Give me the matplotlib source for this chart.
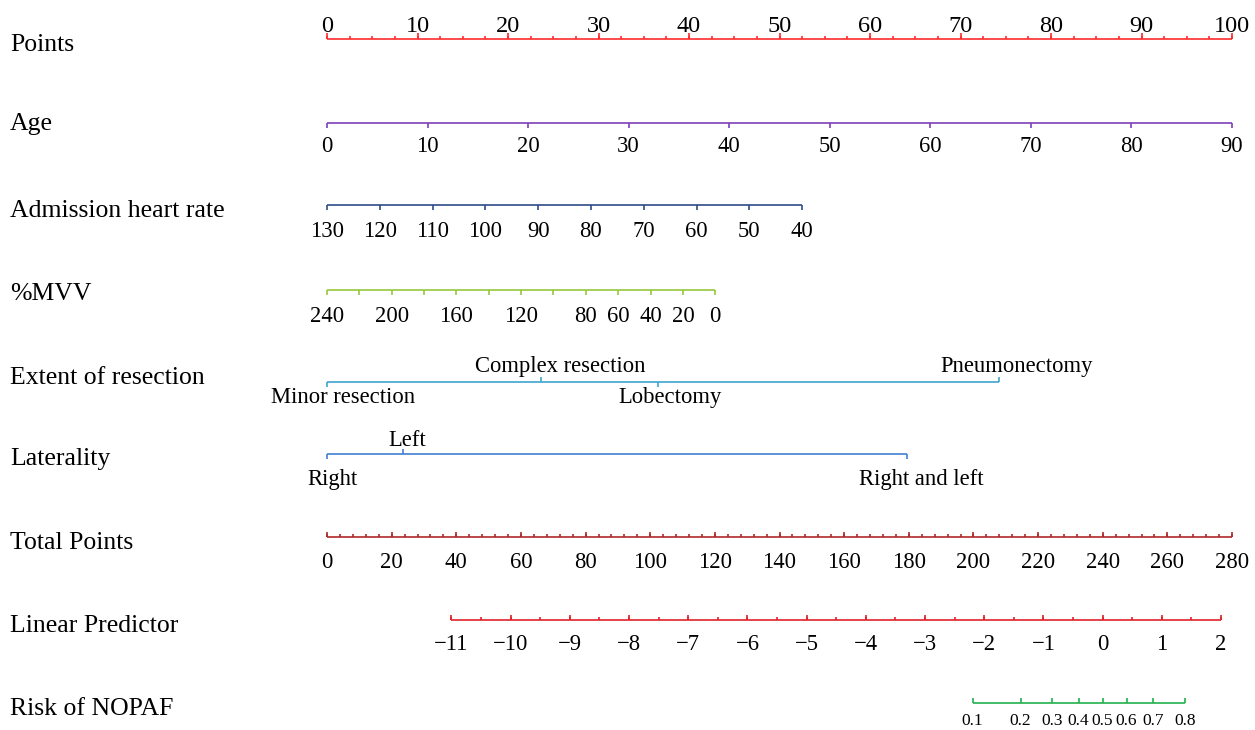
import numpy as np
import matplotlib
matplotlib.use("Agg")
import matplotlib.pyplot as plt
from matplotlib.transforms import offset_copy

plt.rcParams["font.family"] = ["Liberation Serif", "DejaVu Serif"]

# ---- nomogram data ----
points_major = np.arange(0, 101, 10)
points_minor = np.arange(0, 100.01, 2.5)

age_ticks = [0, 10, 20, 30, 40, 50, 60, 70, 80, 90]
age_pts = (0, 100)            # points at first / last tick

hr_ticks = [130, 120, 110, 100, 90, 80, 70, 60, 50, 40]
hr_pts = (0, 52.5)

mvv_ticks = list(range(240, -1, -20))
mvv_labels = [240, 200, 160, 120, 80, 60, 40, 20, 0]
mvv_pts = (0, 42.9)

extent_levels = ["Minor resection", "Complex resection", "Lobectomy", "Pneumonectomy"]
extent_pts = [0, 23.7, 36.6, 74.3]
extent_side = ["below", "above", "below", "above"]

lat_levels = ["Right", "Left", "Right and left"]
lat_pts = [0, 8.4, 64.1]
lat_side = ["below", "above", "below"]

total_major = np.arange(0, 281, 20)
total_minor = np.arange(0, 281, 4)
total_max = 280

lp_ticks = np.arange(-11, 3)
lp_minor = np.arange(-11, 2.01, 0.5)
lp_total = (38.5, 276.6)      # total points at LP = -11 and LP = 2

risk_ticks = [0.1, 0.2, 0.3, 0.4, 0.5, 0.6, 0.7, 0.8]

row_names = ["Points", "Age", "Admission heart rate", "%MVV", "Extent of resection",
             "Laterality", "Total Points", "Linear Predictor", "Risk of NOPAF"]

# ---- layout ----
W, H = 1255, 730
X0, SCALE = 327, 9.05          # pixel of 0 points, pixels per point
row_y = [39.3, 123.3, 205.2, 289.7, 381.7, 454.3, 536.7, 620, 702.7]
name_base = [51, 130, 217, 300, 384, 465, 549, 632, 715]
colors = ["#FF2B2B", "#7E3FB8", "#2E4D8A", "#96C83C", "#3DA5CF",
          "#4182D2", "#B02A2A", "#E0222A", "#21B24B"]
LW = 1.2
FS_NAME, FS_TICK = 18.5, 16.3

fig = plt.figure(figsize=(W / 100, H / 100), dpi=100)
ax = fig.add_axes([0, 0, 1, 1])
ax.set_xlim(-X0 / SCALE, (W - X0) / SCALE)
ax.set_ylim(H, 0)
ax.axis("off")


def lin(v, v0, v1, p0, p1):
    return p0 + (np.asarray(v, float) - v0) * (p1 - p0) / (v1 - v0)


def tp_to_x(tp):
    return np.asarray(tp, float) * 100 / total_max


def lp_to_x(lp):
    return tp_to_x(lin(lp, -11, 2, *lp_total))


def axis_line(xs, y, color, major, minor=None, up=False, tl=5, mtl=3):
    ax.plot([min(xs), max(xs)], [y, y], color=color, lw=LW, solid_capstyle="butt")
    s = -1 if up else 1
    ax.vlines(major, y, y + s * tl, color=color, lw=LW)
    if minor is not None:
        ax.vlines(minor, y, y + s * mtl, color=color, lw=LW)


def tick_labels(xs, labels, y, fs=FS_TICK):
    for x, lab in zip(xs, labels):
        ax.text(x, y, lab, ha="center", va="baseline", fontsize=fs)


# row names
for name, yb in zip(row_names, name_base):
    ax.text(-X0 / SCALE + 10 / SCALE, yb, name, ha="left", va="baseline", fontsize=FS_NAME)

# Points
y = row_y[0]
axis_line(points_major, y, colors[0], points_major, points_minor, up=True, tl=6, mtl=3)
tick_labels(points_major, [str(v) for v in points_major], y - 7.6, fs=17.5)

# Age
y = row_y[1]
ax_x = lin(age_ticks, age_ticks[0], age_ticks[-1], *age_pts)
axis_line(ax_x, y, colors[1], ax_x)
tick_labels(ax_x, [str(v) for v in age_ticks], y + 29)

# Heart rate
y = row_y[2]
hx = lin(hr_ticks, hr_ticks[0], hr_ticks[-1], *hr_pts)
axis_line(hx, y, colors[2], hx)
tick_labels(hx, [str(v) for v in hr_ticks], y + 31.5)

# %MVV
y = row_y[3]
mx = lin(mvv_ticks, mvv_ticks[0], mvv_ticks[-1], *mvv_pts)
axis_line(mx, y, colors[3], mx)
mlx = lin(mvv_labels, mvv_ticks[0], mvv_ticks[-1], *mvv_pts)
tick_labels(mlx, [str(v) for v in mvv_labels], y + 32)

# categorical rows
cat_texts = []


def cat_row(levels, pts, sides, y, color, above_off, below_off):
    ax.plot([min(pts), max(pts)], [y, y], color=color, lw=LW, solid_capstyle="butt")
    for lev, p, side in zip(levels, pts, sides):
        if side == "above":
            ax.vlines(p, y, y - 5, color=color, lw=LW)
            t = ax.text(p, y - above_off, lev, ha="center", va="baseline", fontsize=FS_TICK)
        else:
            ax.vlines(p, y, y + 5, color=color, lw=LW)
            t = ax.text(p, y + below_off, lev, ha="center", va="baseline", fontsize=FS_TICK)
        cat_texts.append(t)


cat_row(extent_levels, extent_pts, extent_side, row_y[4], colors[4], 10, 21)
cat_row(lat_levels, lat_pts, lat_side, row_y[5], colors[5], 8, 31)

# Total points
y = row_y[6]
axis_line(tp_to_x(total_major), y, colors[6], tp_to_x(total_major), tp_to_x(total_minor), up=True, tl=5, mtl=3)
tick_labels(tp_to_x(total_major), [str(v) for v in total_major], y + 31)

# Linear predictor
y = row_y[7]
axis_line(lp_to_x(lp_ticks), y, colors[7], lp_to_x(lp_ticks), lp_to_x(lp_minor), up=True, tl=5, mtl=3)
tick_labels(lp_to_x(lp_ticks), [("\u2212" + str(-v)) if v < 0 else str(v) for v in lp_ticks], y + 30)

# Risk
y = row_y[8]
rlp = np.log(np.array(risk_ticks) / (1 - np.array(risk_ticks)))
rx = lp_to_x(rlp)
axis_line(rx, y, colors[8], rx, up=True, tl=5)
tick_labels(rx, [f"{v:.1f}" for v in risk_ticks], y + 22.5, fs=12.5)

# categorical labels sit slightly right of their tick in the reference
fig.canvas.draw()
r = fig.canvas.get_renderer()
for t in cat_texts:
    w = t.get_window_extent(r).width
    t.set_transform(offset_copy(ax.transData, fig=fig, x=0.11 * w, y=0, units="dots"))

fig.savefig("out.png", dpi=100, facecolor="white")
